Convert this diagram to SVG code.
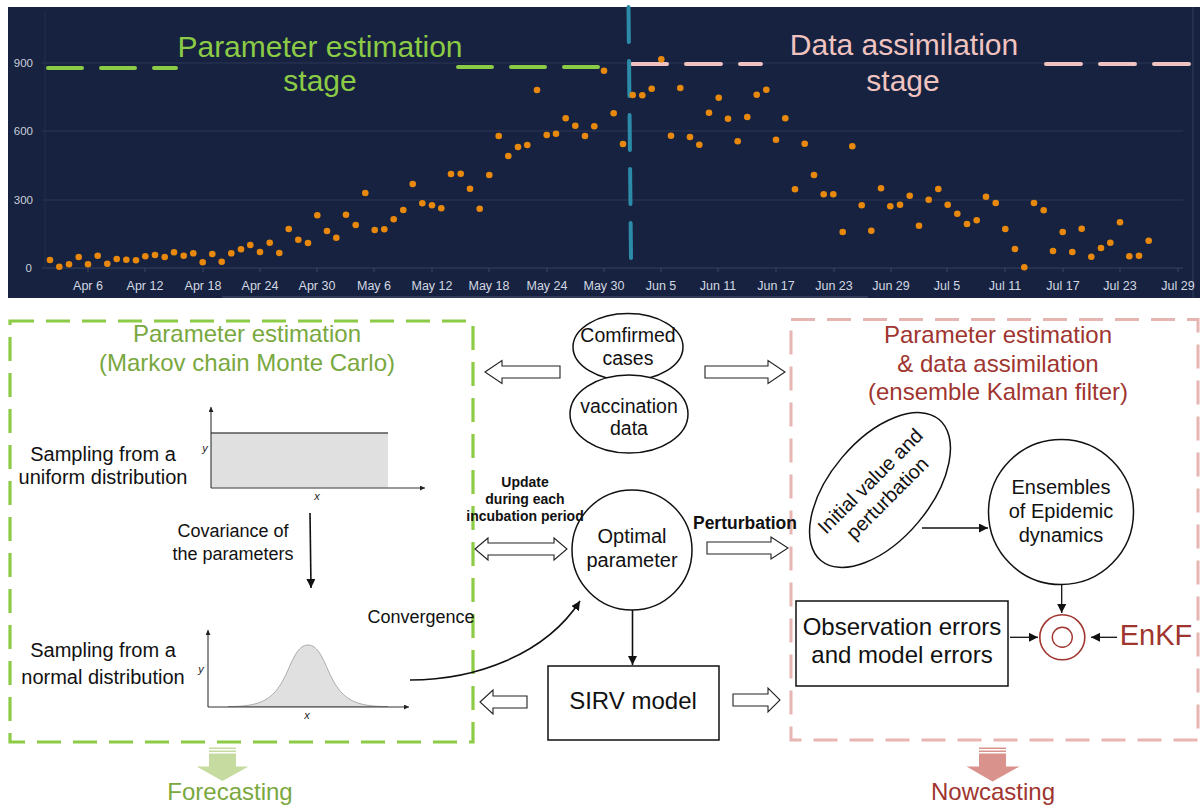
<svg xmlns="http://www.w3.org/2000/svg" width="1202" height="809" viewBox="0 0 1202 809">
<style>
text{font-family:"Liberation Sans",Arial,sans-serif}
.dot{fill:#E8890E}
.grid{stroke:#2A3757;stroke-width:1}
.ylab{font-size:11.5px;fill:#C9CFDA;text-anchor:end}
.xlab{font-size:12.5px;fill:#D3D8E2;text-anchor:middle}
.blk{font-size:20px;fill:#111;text-anchor:middle}
.ln{stroke:#111;stroke-width:1.6;fill:none}
.hollow{fill:#fff;stroke:#222;stroke-width:1.1}
.node{fill:#fff;stroke:#111;stroke-width:1.5}
.red{fill:#A0352F}
.grn{fill:#79A83E}
.axis{stroke:#333;stroke-width:1.1;fill:none}
</style>
<defs>
<marker id="ah" viewBox="0 0 10 10" refX="10" refY="5" markerUnits="userSpaceOnUse" markerWidth="9" markerHeight="9" orient="auto"><path d="M0,0 L10,5 L0,10 z" fill="#111"/></marker>
<marker id="sah" viewBox="0 0 10 10" refX="10" refY="5" markerUnits="userSpaceOnUse" markerWidth="6" markerHeight="5" orient="auto"><path d="M0,0 L10,5 L0,10 z" fill="#222"/></marker>
</defs>
<rect width="1202" height="809" fill="#fff"/>

<g id="chart">
<rect x="8" y="7" width="1192" height="291" fill="#16223F"/>
<line x1="1193" y1="7" x2="1193" y2="298" stroke="#2A3656" stroke-width="1.5"/>
<line x1="222" y1="297" x2="868" y2="297" stroke="#3B4662" stroke-width="1.5"/>
<line class="grid" x1="42" y1="63" x2="1183" y2="63"/>
<line class="grid" x1="42" y1="131" x2="1183" y2="131"/>
<line class="grid" x1="42" y1="200" x2="1183" y2="200"/>
<line x1="42" y1="268" x2="1183" y2="268" stroke="#34415F" stroke-width="1.2"/>
<line x1="45" y1="12" x2="45" y2="268" stroke="#23304D" stroke-width="1"/>
<g stroke="#3A4766" stroke-width="1">
<line x1="88" y1="268" x2="88" y2="272"/><line x1="145" y1="268" x2="145" y2="272"/><line x1="203" y1="268" x2="203" y2="272"/><line x1="260" y1="268" x2="260" y2="272"/><line x1="317" y1="268" x2="317" y2="272"/><line x1="374" y1="268" x2="374" y2="272"/><line x1="432" y1="268" x2="432" y2="272"/><line x1="489" y1="268" x2="489" y2="272"/><line x1="547" y1="268" x2="547" y2="272"/><line x1="604" y1="268" x2="604" y2="272"/><line x1="661" y1="268" x2="661" y2="272"/><line x1="718" y1="268" x2="718" y2="272"/><line x1="776" y1="268" x2="776" y2="272"/><line x1="834" y1="268" x2="834" y2="272"/><line x1="891" y1="268" x2="891" y2="272"/><line x1="947" y1="268" x2="947" y2="272"/><line x1="1005" y1="268" x2="1005" y2="272"/><line x1="1063" y1="268" x2="1063" y2="272"/><line x1="1120" y1="268" x2="1120" y2="272"/><line x1="1178" y1="268" x2="1178" y2="272"/>
</g>
<text class="ylab" x="33" y="67">900</text>
<text class="ylab" x="33" y="135">600</text>
<text class="ylab" x="33" y="204">300</text>
<text class="ylab" x="32" y="272">0</text>
<text class="xlab" x="88" y="290">Apr 6</text>
<text class="xlab" x="145" y="290">Apr 12</text>
<text class="xlab" x="203" y="290">Apr 18</text>
<text class="xlab" x="260" y="290">Apr 24</text>
<text class="xlab" x="317" y="290">Apr 30</text>
<text class="xlab" x="374" y="290">May 6</text>
<text class="xlab" x="432" y="290">May 12</text>
<text class="xlab" x="489" y="290">May 18</text>
<text class="xlab" x="547" y="290">May 24</text>
<text class="xlab" x="604" y="290">May 30</text>
<text class="xlab" x="661" y="290">Jun 5</text>
<text class="xlab" x="718" y="290">Jun 11</text>
<text class="xlab" x="776" y="290">Jun 17</text>
<text class="xlab" x="834" y="290">Jun 23</text>
<text class="xlab" x="891" y="290">Jun 29</text>
<text class="xlab" x="947" y="290">Jul 5</text>
<text class="xlab" x="1005" y="290">Jul 11</text>
<text class="xlab" x="1063" y="290">Jul 17</text>
<text class="xlab" x="1120" y="290">Jul 23</text>
<text class="xlab" x="1178" y="290">Jul 29</text>

<g stroke-width="4" stroke-linecap="round" fill="none">
<path d="M48,68 H176" stroke="#8CCB45" stroke-dasharray="34 19"/>
<path d="M458,67 H601" stroke="#8CCB45" stroke-dasharray="34 19"/>
<path d="M632,64 H761" stroke="#F0C3C0" stroke-dasharray="35 19"/>
<path d="M1046,64 H1189" stroke="#F0C3C0" stroke-dasharray="35 19"/>
<path d="M628.5,7 L631,258" stroke="#2C8BA8" stroke-dasharray="35 19"/>
</g>

<g>
<circle class="dot" cx="50" cy="260" r="3.3"/><circle class="dot" cx="59.3" cy="266.7" r="3.3"/><circle class="dot" cx="69" cy="264.3" r="3.3"/><circle class="dot" cx="78.7" cy="257" r="3.3"/><circle class="dot" cx="88" cy="264.3" r="3.3"/><circle class="dot" cx="97.7" cy="255.7" r="3.3"/><circle class="dot" cx="107.3" cy="263.7" r="3.3"/><circle class="dot" cx="116.7" cy="259" r="3.3"/><circle class="dot" cx="126.3" cy="259.7" r="3.3"/><circle class="dot" cx="136" cy="260.3" r="3.3"/><circle class="dot" cx="145.3" cy="256.3" r="3.3"/><circle class="dot" cx="155" cy="255" r="3.3"/><circle class="dot" cx="164.7" cy="257" r="3.3"/><circle class="dot" cx="174" cy="252.3" r="3.3"/><circle class="dot" cx="183.7" cy="255.7" r="3.3"/><circle class="dot" cx="193.3" cy="253.3" r="3.3"/><circle class="dot" cx="202.7" cy="262.3" r="3.3"/><circle class="dot" cx="212.3" cy="254" r="3.3"/><circle class="dot" cx="221.7" cy="261.7" r="3.3"/><circle class="dot" cx="231.3" cy="253.3" r="3.3"/><circle class="dot" cx="241" cy="249.3" r="3.3"/><circle class="dot" cx="250.3" cy="245" r="3.3"/><circle class="dot" cx="260" cy="252" r="3.3"/><circle class="dot" cx="269.7" cy="242.7" r="3.3"/><circle class="dot" cx="279.3" cy="253" r="3.3"/><circle class="dot" cx="288.7" cy="229" r="3.3"/><circle class="dot" cx="298.3" cy="239.7" r="3.3"/><circle class="dot" cx="308" cy="243" r="3.3"/><circle class="dot" cx="317.3" cy="215.3" r="3.3"/><circle class="dot" cx="327" cy="231" r="3.3"/><circle class="dot" cx="336.3" cy="237.7" r="3.3"/><circle class="dot" cx="346" cy="214.7" r="3.3"/><circle class="dot" cx="355.7" cy="225" r="3.3"/><circle class="dot" cx="365.3" cy="193" r="3.3"/><circle class="dot" cx="374.7" cy="230" r="3.3"/><circle class="dot" cx="384.3" cy="229.3" r="3.3"/><circle class="dot" cx="393.7" cy="219.3" r="3.3"/>
<circle class="dot" cx="403.3" cy="210" r="3.3"/><circle class="dot" cx="412.7" cy="184" r="3.3"/><circle class="dot" cx="422.3" cy="203.3" r="3.3"/><circle class="dot" cx="432" cy="205.3" r="3.3"/><circle class="dot" cx="441.3" cy="208.3" r="3.3"/><circle class="dot" cx="451" cy="174" r="3.3"/><circle class="dot" cx="460.7" cy="173.7" r="3.3"/><circle class="dot" cx="470" cy="188.7" r="3.3"/><circle class="dot" cx="479.7" cy="208.7" r="3.3"/><circle class="dot" cx="489.3" cy="175" r="3.3"/><circle class="dot" cx="498.7" cy="136" r="3.3"/><circle class="dot" cx="508.3" cy="156" r="3.3"/><circle class="dot" cx="518" cy="147" r="3.3"/><circle class="dot" cx="527.3" cy="145" r="3.3"/><circle class="dot" cx="537" cy="90" r="3.3"/><circle class="dot" cx="546.7" cy="135" r="3.3"/><circle class="dot" cx="556" cy="133.7" r="3.3"/><circle class="dot" cx="565.7" cy="118.3" r="3.3"/><circle class="dot" cx="575.3" cy="125.7" r="3.3"/><circle class="dot" cx="585" cy="136" r="3.3"/><circle class="dot" cx="594.3" cy="126.3" r="3.3"/><circle class="dot" cx="604" cy="70.7" r="3.3"/><circle class="dot" cx="613.7" cy="113.3" r="3.3"/><circle class="dot" cx="623" cy="144" r="3.3"/><circle class="dot" cx="632.7" cy="95" r="3.3"/><circle class="dot" cx="642.3" cy="95.3" r="3.3"/><circle class="dot" cx="651.7" cy="88.7" r="3.3"/><circle class="dot" cx="661.3" cy="59.3" r="3.3"/><circle class="dot" cx="671" cy="135.7" r="3.3"/><circle class="dot" cx="680.3" cy="88" r="3.3"/><circle class="dot" cx="690" cy="137" r="3.3"/><circle class="dot" cx="699.3" cy="144.7" r="3.3"/><circle class="dot" cx="709" cy="112.7" r="3.3"/><circle class="dot" cx="718.7" cy="97.7" r="3.3"/><circle class="dot" cx="728" cy="118.7" r="3.3"/><circle class="dot" cx="737.7" cy="141.3" r="3.3"/><circle class="dot" cx="747.3" cy="117" r="3.3"/><circle class="dot" cx="756.7" cy="94.7" r="3.3"/><circle class="dot" cx="766.3" cy="89.7" r="3.3"/><circle class="dot" cx="776" cy="139.7" r="3.3"/><circle class="dot" cx="785.3" cy="118.3" r="3.3"/><circle class="dot" cx="795" cy="189.3" r="3.3"/>
<circle class="dot" cx="804.7" cy="143.7" r="3.3"/><circle class="dot" cx="814" cy="175" r="3.3"/><circle class="dot" cx="823.7" cy="194.3" r="3.3"/><circle class="dot" cx="833.3" cy="194.3" r="3.3"/><circle class="dot" cx="842.7" cy="232" r="3.3"/><circle class="dot" cx="852.3" cy="146.3" r="3.3"/><circle class="dot" cx="861.7" cy="205.3" r="3.3"/><circle class="dot" cx="871.3" cy="230.7" r="3.3"/><circle class="dot" cx="881" cy="188.3" r="3.3"/><circle class="dot" cx="890.3" cy="206.3" r="3.3"/><circle class="dot" cx="900" cy="204.7" r="3.3"/><circle class="dot" cx="909.7" cy="195.7" r="3.3"/><circle class="dot" cx="919" cy="225.7" r="3.3"/><circle class="dot" cx="928.7" cy="199.7" r="3.3"/><circle class="dot" cx="938.3" cy="189" r="3.3"/><circle class="dot" cx="947.7" cy="204.7" r="3.3"/><circle class="dot" cx="957.3" cy="213.7" r="3.3"/><circle class="dot" cx="967" cy="224" r="3.3"/><circle class="dot" cx="976.7" cy="220.3" r="3.3"/><circle class="dot" cx="986" cy="196.7" r="3.3"/><circle class="dot" cx="995.7" cy="203" r="3.3"/><circle class="dot" cx="1005.3" cy="229" r="3.3"/><circle class="dot" cx="1015" cy="249" r="3.3"/><circle class="dot" cx="1024.3" cy="267.3" r="3.3"/><circle class="dot" cx="1034" cy="203" r="3.3"/><circle class="dot" cx="1043.7" cy="210.3" r="3.3"/><circle class="dot" cx="1053" cy="251" r="3.3"/><circle class="dot" cx="1062.7" cy="232" r="3.3"/><circle class="dot" cx="1072.3" cy="252" r="3.3"/><circle class="dot" cx="1081.7" cy="228.7" r="3.3"/><circle class="dot" cx="1091.3" cy="256.7" r="3.3"/><circle class="dot" cx="1101" cy="248" r="3.3"/><circle class="dot" cx="1110.3" cy="242.7" r="3.3"/><circle class="dot" cx="1120" cy="222.3" r="3.3"/><circle class="dot" cx="1129.3" cy="256.3" r="3.3"/><circle class="dot" cx="1139" cy="255.7" r="3.3"/><circle class="dot" cx="1148.7" cy="240.7" r="3.3"/>
</g>

<text x="320" y="57" font-size="30" fill="#8CCB45" text-anchor="middle">Parameter estimation</text>
<text x="320" y="91" font-size="30" fill="#8CCB45" text-anchor="middle">stage</text>
<text x="904" y="55" font-size="30" fill="#F0C3C0" text-anchor="middle">Data assimilation</text>
<text x="903" y="91" font-size="30" fill="#F0C3C0" text-anchor="middle">stage</text>
</g>

<g id="mcmc-panel">
<rect x="10" y="321" width="463" height="421" fill="none" stroke="#8CCB45" stroke-width="3.2" stroke-dasharray="24 12"/>
<text class="grn" x="247" y="342" font-size="24" text-anchor="middle">Parameter estimation</text>
<text class="grn" x="247" y="371" font-size="24" text-anchor="middle">(Markov chain Monte Carlo)</text>
</g>

<g id="uniform">
<text class="blk" x="103" y="461">Sampling from a</text>
<text class="blk" x="103" y="484">uniform distribution</text>
<rect x="211" y="433" width="177" height="54.5" fill="#E0E0E0"/>
<line x1="211" y1="433" x2="388" y2="433" stroke="#555" stroke-width="1.3"/>
<line class="axis" x1="211" y1="488" x2="211" y2="407" marker-end="url(#sah)"/>
<line class="axis" x1="211" y1="488" x2="425" y2="488" marker-end="url(#sah)"/>
<text x="205" y="452" font-size="11" font-style="italic" fill="#222" text-anchor="middle">y</text>
<text x="317" y="500" font-size="11" font-style="italic" fill="#222" text-anchor="middle">x</text>
</g>

<g id="normal">
<text class="blk" x="103" y="657">Sampling from a</text>
<text class="blk" x="103" y="684">normal distribution</text>
<path d="M228,706.5 C262,706.5 275,700 288,670 C296,651 301,645 308,645 C315,645 320,651 328,670 C341,700 354,706.5 388,706.5 Z" fill="#E0E0E0" stroke="#9A9A9A" stroke-width="0.8"/>
<line class="axis" x1="208" y1="707" x2="208" y2="630" marker-end="url(#sah)"/>
<line class="axis" x1="208" y1="707" x2="409" y2="707" marker-end="url(#sah)"/>
<text x="201" y="673" font-size="11" font-style="italic" fill="#222" text-anchor="middle">y</text>
<text x="307" y="719" font-size="11" font-style="italic" fill="#222" text-anchor="middle">x</text>
</g>

<g id="covariance-label">
<text x="233" y="537" font-size="18" fill="#111" text-anchor="middle">Covariance of</text>
<text x="233" y="560" font-size="18" fill="#111" text-anchor="middle">the parameters</text>
</g>

<g id="enkf-panel">
<rect x="791" y="319.5" width="407" height="420.5" fill="none" stroke="#E8B6B2" stroke-width="3" stroke-dasharray="24 12"/>
<text class="red" x="998" y="343" font-size="24" text-anchor="middle">Parameter estimation</text>
<text class="red" x="998" y="372" font-size="24" text-anchor="middle">&amp; data assimilation</text>
<text class="red" x="998" y="400" font-size="24" text-anchor="middle">(ensemble Kalman filter)</text>
</g>

<g id="confirmed">
<ellipse class="node" cx="628" cy="347" rx="55" ry="33.5"/>
<text x="628" y="342" font-size="19.5" fill="#111" text-anchor="middle">Comfirmed</text>
<text x="628" y="365" font-size="19.5" fill="#111" text-anchor="middle">cases</text>
</g>
<g id="vaccination">
<ellipse class="node" cx="629" cy="414" rx="59" ry="39"/>
<text x="629" y="413" font-size="19.5" fill="#111" text-anchor="middle">vaccination</text>
<text x="629" y="435" font-size="19.5" fill="#111" text-anchor="middle">data</text>
</g>
<g id="optimal">
<circle class="node" cx="632" cy="550" r="60"/>
<text class="blk" x="632" y="543">Optimal</text>
<text class="blk" x="632" y="567">parameter</text>
</g>
<g id="sirv">
<rect class="node" x="548" y="666" width="171" height="74"/>
<text x="633" y="709" font-size="24" fill="#111" text-anchor="middle">SIRV model</text>
</g>
<g id="initial">
<ellipse class="node" cx="880" cy="490" rx="92" ry="50" transform="rotate(-50 880 490)"/>
<g transform="translate(878.6 489.5) rotate(-45)">
<text x="0" y="-5" font-size="20" fill="#111" text-anchor="middle">Initial value and</text>
<text x="0" y="19" font-size="20" fill="#111" text-anchor="middle">perturbation</text>
</g>
</g>
<g id="ensembles">
<circle class="node" cx="1061" cy="512" r="72.5"/>
<text class="blk" x="1061" y="494">Ensembles</text>
<text class="blk" x="1061" y="518">of Epidemic</text>
<text class="blk" x="1061" y="542">dynamics</text>
</g>
<g id="errors">
<rect class="node" x="796" y="601" width="212" height="85"/>
<text x="902" y="635" font-size="24" fill="#111" text-anchor="middle">Observation errors</text>
<text x="902" y="663" font-size="24" fill="#111" text-anchor="middle">and model errors</text>
</g>
<g id="target">
<circle cx="1062.3" cy="637.3" r="22.5" fill="#fff" stroke="#A0352F" stroke-width="1.6"/>
<circle cx="1062.3" cy="637.3" r="10" fill="none" stroke="#A0352F" stroke-width="1.4"/>
</g>
<g id="enkf">
<text class="red" x="1156" y="645" font-size="29" text-anchor="middle">EnKF</text>
</g>
<g id="forecasting">
<rect x="209" y="747.5" width="27" height="1.5" fill="#C5DBA0"/>
<rect x="209" y="750.5" width="27" height="1.5" fill="#C5DBA0"/>
<polygon points="209,753.5 236,753.5 236,766.5 248.5,766.5 222.5,781 196.5,766.5 209,766.5" fill="#C5DBA0"/>
<text class="grn" x="230" y="800" font-size="24" text-anchor="middle">Forecasting</text>
</g>
<g id="nowcasting">
<rect x="979" y="747.5" width="27" height="1.5" fill="#DA928C"/>
<rect x="979" y="750.5" width="27" height="1.5" fill="#DA928C"/>
<polygon points="979,753.5 1006,753.5 1006,766.5 1019.5,766.5 992.5,781.5 966.5,766.5 979,766.5" fill="#DA928C"/>
<text class="red" x="993" y="800" font-size="24" text-anchor="middle">Nowcasting</text>
</g>

<g id="connectors">
<polygon class="hollow" points="485,372 502,360.5 502,366 560,366 560,378 502,378 502,383.5"/>
<polygon class="hollow" points="705,366 768,366 768,360.5 785,372 768,383.5 768,378 705,378"/>
<polygon class="hollow" points="475,549 488,538 488,543 554,543 554,538 567,549 554,560 554,555 488,555 488,560"/>
<polygon class="hollow" points="707,542 771,542 771,537 788,548 771,559 771,554 707,554"/>
<polygon class="hollow" points="480,702 493,690 493,696 527,696 527,708 493,708 493,714"/>
<polygon class="hollow" points="733,694 768,694 768,688 780,700 768,712 768,706 733,706"/>
<line class="ln" x1="310" y1="513" x2="311" y2="588" marker-end="url(#ah)"/>
<path class="ln" d="M410,680 C475,680 545,655 580,601" marker-end="url(#ah)"/>
<line class="ln" x1="632.5" y1="610" x2="632.5" y2="665" marker-end="url(#ah)"/>
<line x1="922" y1="528" x2="988" y2="528" stroke="#111" stroke-width="1.3" marker-end="url(#ah)"/>
<line x1="1061.7" y1="585" x2="1061.7" y2="613" stroke="#111" stroke-width="1.3" marker-end="url(#ah)"/>
<line x1="1010" y1="637.3" x2="1038" y2="637.3" stroke="#111" stroke-width="1.3" marker-end="url(#ah)"/>
<line x1="1117" y1="637.3" x2="1091" y2="637.3" stroke="#111" stroke-width="1.3" marker-end="url(#ah)"/>
</g>

<g id="labels">
<text x="525" y="487" font-size="14" font-weight="bold" fill="#111" text-anchor="middle">Update</text>
<text x="525" y="504" font-size="14" font-weight="bold" fill="#111" text-anchor="middle">during each</text>
<text x="525" y="521" font-size="14" font-weight="bold" fill="#111" text-anchor="middle">incubation period</text>
<text x="745" y="529" font-size="17.5" font-weight="bold" fill="#111" text-anchor="middle">Perturbation</text>
<text x="421" y="623" font-size="18" fill="#111" text-anchor="middle">Convergence</text>
</g>
</svg>
